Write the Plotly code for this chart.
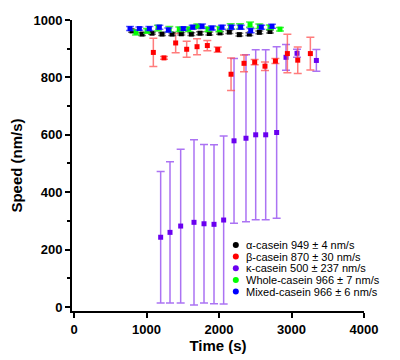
import plotly.graph_objects as go

# ---- data ----
alpha_t = [800, 938, 1076, 1214, 1352, 1480, 1618, 1738, 1866, 2014, 2142, 2280, 2418, 2556, 2703]
alpha_v = [962, 951, 954, 951, 951, 952, 951, 954, 953, 955, 958, 949, 951, 957, 960]
alpha_e = [5, 5, 4, 5, 5, 4, 5, 5, 5, 5, 5, 5, 5, 5, 5]

beta_t = [1094, 1241, 1402, 1554, 1697, 1839, 1982, 2166, 2345, 2492, 2634, 2778, 2943, 3086, 3260]
beta_v = [887, 868, 920, 898, 907, 911, 897, 811, 849, 853, 839, 857, 883, 860, 883]
beta_e = [49, 5, 34, 28, 28, 18, 9, 57, 29, 9, 15, 9, 67, 46, 57]

kappa_t = [1195, 1324, 1471, 1655, 1793, 1931, 2064, 2207, 2372, 2506, 2644, 2795, 2924, 3076, 3343]
kappa_v = [243, 260, 282, 295, 290, 288, 303, 579, 588, 600, 600, 608, 870, 884, 859]
kappa_e = [229, 246, 268, 288, 276, 277, 293, 287, 291, 296, 296, 299, 45, 14, 38]

whole_t = [855, 1007, 1159, 1314, 1452, 1582, 1701, 1848, 2004, 2161, 2290, 2428, 2556, 2703, 2841]
whole_v = [957, 962, 972, 968, 968, 968, 978, 968, 968, 978, 978, 984, 978, 975, 968]
whole_e = [9, 8, 10, 9, 8, 8, 8, 8, 9, 9, 9, 9, 8, 8, 6]

mixed_t = [772, 901, 1039, 1177, 1301, 1508, 1637, 1766, 1903, 2041, 2170, 2299, 2437, 2583, 2731]
mixed_v = [970, 970, 970, 975, 965, 970, 975, 978, 972, 975, 975, 975, 963, 975, 978]
mixed_e = [7, 6, 7, 7, 7, 6, 7, 8, 7, 7, 7, 7, 7, 7, 7]

names = ["\u03b1-casein 949 \u00b1 4 nm/s",
         "\u03b2-casein 870 \u00b1 30 nm/s",
         "\u03ba-casein 500 \u00b1 237 nm/s",
         "Whole-casein 966 \u00b1 7 nm/s",
         "Mixed-casein 966 \u00b1 6 nm/s"]

series = [
    (alpha_t, alpha_v, alpha_e, "#000000", "rgba(90,90,90,0.8)"),
    (beta_t, beta_v, beta_e, "#FF0000", "rgba(255,80,80,0.75)"),
    (kappa_t, kappa_v, kappa_e, "#6A00F0", "rgba(150,80,240,0.8)"),
    (whole_t, whole_v, whole_e, "#00FF00", "rgba(40,230,40,0.8)"),
    (mixed_t, mixed_v, mixed_e, "#0000FF", "rgba(60,60,255,0.8)"),
]

fig = go.Figure()
order = [2, 1, 0, 3, 4]
for i in order:
    t, v, e, c, ec = series[i]
    fig.add_trace(go.Scatter(
        x=t, y=v, mode="markers", name=names[i],
        marker=dict(symbol="square", size=5, color=c),
        error_y=dict(type="data", array=e, visible=True, color=ec, thickness=1.5, width=4),
        showlegend=False, hoverinfo="skip"))

# manual compact legend (circle marker + text per series)
leg_y0, leg_dy = 0.227, 0.0401
shapes = []
annotations = []
for i, nm in enumerate(names):
    yy = leg_y0 - i * leg_dy
    shapes.append(dict(type="circle", xref="paper", yref="paper",
                       xsizemode="pixel", ysizemode="pixel",
                       xanchor=0.561, yanchor=yy,
                       x0=-3, x1=3, y0=-3, y1=3,
                       fillcolor=series[i][3], line=dict(width=0)))
    annotations.append(dict(xref="paper", yref="paper", x=0.590, y=yy,
                            xanchor="left", yanchor="middle", showarrow=False,
                            text=nm, font=dict(size=11, family="Arial", color="black")))

fig.update_layout(
    width=392, height=352,
    margin=dict(l=64, r=36, t=12, b=49),
    paper_bgcolor="white", plot_bgcolor="white",
    font=dict(family="Arial", color="black"),
    showlegend=False,
    shapes=shapes, annotations=annotations,
)

fig.update_xaxes(
    range=[-28, 4000], showline=True, linewidth=2, linecolor="black",
    ticks="outside", ticklen=5, tickwidth=2, tickcolor="black",
    tickvals=[0, 1000, 2000, 3000, 4000],
    tickfont=dict(size=13, family="Arial", weight="bold"),
    title=dict(text="Time (s)", font=dict(size=15, family="Arial", weight="bold"), standoff=2),
    showgrid=False, zeroline=False, automargin=False)

fig.update_yaxes(
    range=[-14, 1000], showline=True, linewidth=2, linecolor="black",
    ticks="outside", ticklen=5, tickwidth=2, tickcolor="black",
    tickvals=[0, 200, 400, 600, 800, 1000],
    minor=dict(ticks="outside", ticklen=3, tickwidth=1.5, tickcolor="black", dtick=100, tick0=0),
    tickfont=dict(size=13, family="Arial", weight="bold"),
    title=dict(text="Speed (nm/s)", font=dict(size=15, family="Arial", weight="bold"), standoff=12),
    showgrid=False, zeroline=False, automargin=False)

fig.write_html("out.html")
